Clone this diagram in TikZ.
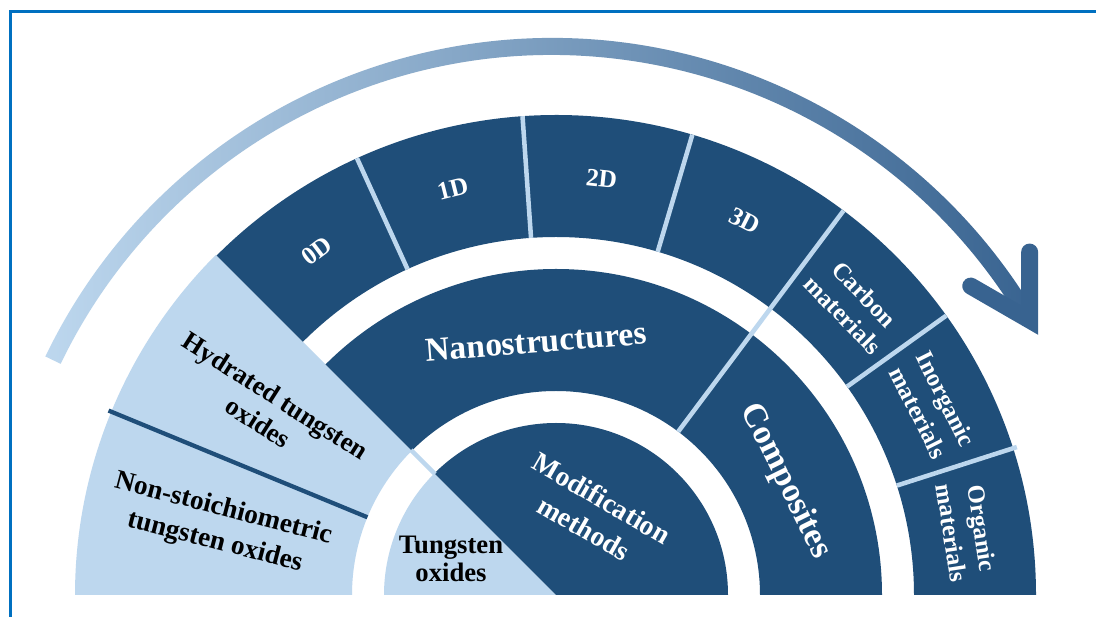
\documentclass[tikz,border=0pt]{standalone}
\usepackage{fontspec}
\setmainfont{Liberation Serif}
\usetikzlibrary{calc}

\definecolor{deep}{HTML}{1F4E79}
\definecolor{pale}{HTML}{BDD7EE}
\definecolor{frameblue}{HTML}{0070C0}
\definecolor{arrowL}{HTML}{BDD7EE}
\definecolor{arrowM}{HTML}{9AB8D4}
\definecolor{arrowR}{HTML}{386390}

% annular sector: style, start angle, end angle, inner radius, outer radius
\newcommand\ringpiece[5]{%
  \fill[#1] ($(C)+(#2:#5)$) arc[start angle=#2,end angle=#3,radius=#5]
    -- ($(C)+(#3:#4)$) arc[start angle=#3,end angle=#2,radius=#4] -- cycle;}
% full sector from the centre: style, start angle, end angle, radius
\newcommand\piepiece[4]{%
  \fill[#1] (C) -- ($(C)+(#2:#4)$) arc[start angle=#2,end angle=#3,radius=#4] -- cycle;}

\begin{document}
\begin{tikzpicture}[x=0.75pt,y=0.75pt,
  lbl/.style={align=center,inner sep=0pt},
  ondark/.style={text=white},
  onlight/.style={text=black},
  sep/.style={draw=pale,line width=3.4pt},
  divider/.style={draw=deep,line width=3.2pt},
  frame/.style={draw=frameblue,line width=1.9pt}]

\useasboundingbox (0,0) rectangle (1096,617);
\fill[white] (0,0) rectangle (1096,617);

% frame
\draw[frame] (10.5,0) -- (10.5,605.5) -- (1096,605.5);

\coordinate (C) at (556,22);

% tungsten oxide families (left block)
\ringpiece{pale}{135}{180}{204}{481}
\piepiece{pale}{135}{180}{172}

% modification methods (inner half disc)
\piepiece{deep}{0}{135}{172}
% nanostructures + composites
\ringpiece{deep}{0}{135}{204}{326}
% outer ring: 0D..3D and the composite partners
\ringpiece{deep}{0}{135}{358}{480}

% light separators
\draw[sep] ($(C)+(135:171)$) -- ($(C)+(135:205)$);
\draw[sep] ($(C)+(53.2:204)$) -- ($(C)+(53.2:480)$);
\draw[sep] ($(C)+(114.5:358)$) -- ($(C)+(114.5:480)$);
\draw[sep] ($(C)+(94:358)$) -- ($(C)+(94:480)$);
\draw[sep] ($(C)+(73.5:358)$) -- ($(C)+(73.5:480)$);
\draw[sep] ($(C)+(35.6:358)$) -- ($(C)+(35.6:480)$);
\draw[sep] ($(C)+(17.8:358)$) -- ($(C)+(17.8:484)$);

% dark divider between the two oxide families
\draw[divider] ($(C)+(157.6:204)$) -- ($(C)+(157.6:484)$);

% curved arrow over the diagram
\coordinate (A) at (552,16.7);
\shade[left color=arrowL,middle color=arrowM,right color=arrowR]
  ($(A)+(154.3:562.3)$) arc[start angle=154.3,end angle=30.4,radius=562.3]
  -- ($(A)+(30.4:545.3)$) arc[start angle=30.4,end angle=154.3,radius=545.3]
  -- cycle;
\coordinate (hv) at ($(A)+(30.4:553.8)$);
\coordinate (hb1) at ($(hv)+(90:68)$);
\coordinate (hb2) at ($(hv)+(150:68)$);
\draw[arrowR,line width=12.75pt,line cap=round,line join=miter] (hb2) -- (hv) -- (hb1);

% labels of the outer ring
\node[lbl,ondark,font=\bfseries\fontsize{19}{22}\selectfont,rotate=37] (dim0) at ($(C)+(124.75:419)$) {0D};
\node[lbl,ondark,font=\bfseries\fontsize{19}{22}\selectfont,rotate=14.25] (dim1) at ($(C)+(104.25:419)$) {1D};
\node[lbl,ondark,font=\bfseries\fontsize{19}{22}\selectfont,rotate=-6.25] (dim2) at ($(C)+(83.75:419)$) {2D};
\node[lbl,ondark,font=\bfseries\fontsize{19}{22}\selectfont,rotate=-27] (dim3) at ($(C)+(63.25:419)$) {3D};
\node[lbl,ondark,font=\bfseries\fontsize{18.5}{22.3}\selectfont,rotate=-45.7] (carbon) at ($(C)+(44.3:416)$) {Carbon\\materials};
\node[lbl,ondark,font=\bfseries\fontsize{18.5}{23}\selectfont,rotate=-63.3] (inorg) at ($(C)+(26.7:421)$) {Inorganic\\materials};
\node[lbl,ondark,font=\bfseries\fontsize{18.5}{23}\selectfont,rotate=-81.1] (org) at ($(C)+(8.9:416)$) {Organic\\materials};

% labels of the middle ring
\node[lbl,ondark,font=\bfseries\fontsize{25.5}{30}\selectfont,rotate=-63.6] (compo) at ($(C)+(26.4:256)$) {Composites};
\node[lbl,ondark,font=\bfseries\fontsize{25.2}{30}\selectfont,rotate=4.5] (nano) at ($(C)+(94.5:254)$) {Nanostructures};

% inner labels
\node[lbl,ondark,font=\bfseries\fontsize{21}{26}\selectfont,rotate=-30] (modif) at (593,104) {Modification\\methods};
\node[lbl,onlight,font=\bfseries\fontsize{20}{21.2}\selectfont] (wox) at (451,58) {Tungsten\\oxides};

% oxide families
\node[lbl,onlight,font=\bfseries\fontsize{20}{23.6}\selectfont,rotate=-32.5] (hydr) at (267,208) {Hydrated tungsten\\oxides};
\node[lbl,onlight,font=\bfseries\fontsize{20.5}{25.5}\selectfont,rotate=-14.5] (nonst) at (219,91) {Non-stoichiometric\\tungsten oxides};

\end{tikzpicture}
\end{document}
